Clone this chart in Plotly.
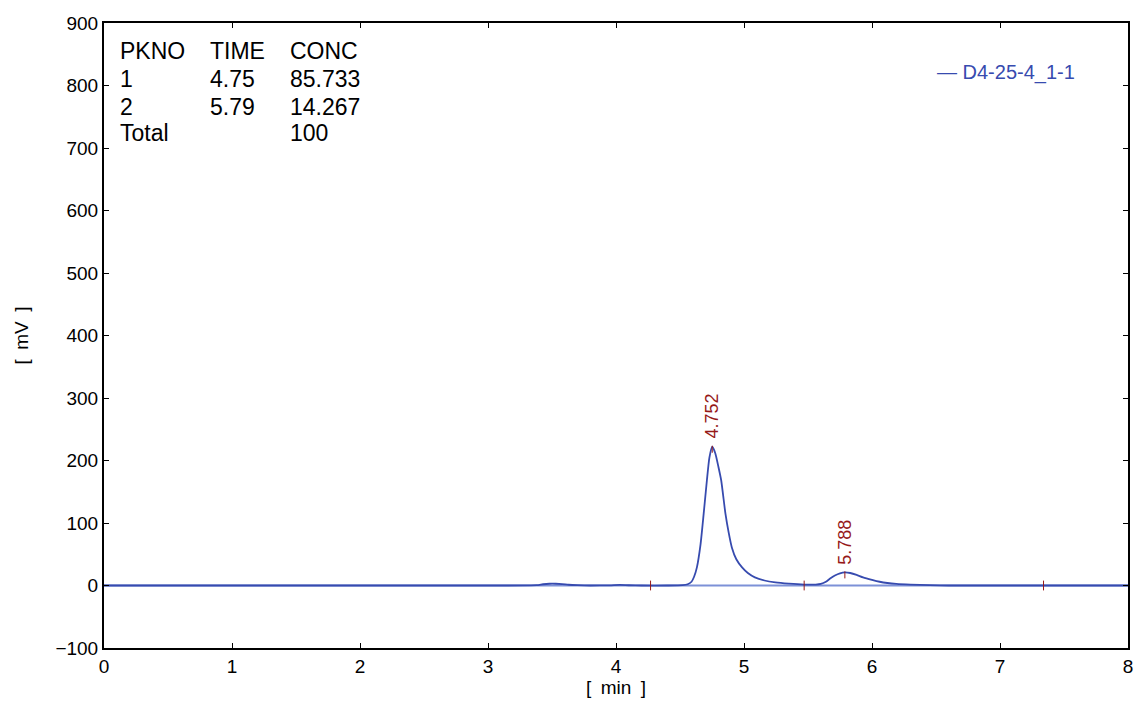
import plotly.graph_objects as go

# Chromatogram samples: retention time [min] and detector signal [mV]
time_min = [0.0, 1.0, 2.0, 3.0, 3.38, 3.43, 3.48, 3.53, 3.58, 3.63, 3.70, 3.80,
            3.95, 4.03, 4.10, 4.20, 4.40, 4.52, 4.56, 4.59, 4.61, 4.632, 4.66,
            4.685, 4.71, 4.73, 4.752, 4.775, 4.80, 4.822, 4.855, 4.88, 4.905,
            4.94, 4.985, 5.03, 5.085, 5.16, 5.245, 5.35, 5.47, 5.56, 5.60,
            5.64, 5.67, 5.71, 5.75, 5.788, 5.83, 5.88, 5.93, 6.00, 6.06, 6.12,
            6.19, 6.30, 6.45, 6.60, 7.0, 8.0]
signal_mv = [0.0, 0.0, 0.0, 0.0, 0.5, 2.0, 2.8, 2.8, 2.3, 1.2, 0.5, 0.0,
             0.3, 1.0, 0.4, 0.0, 0.0, 0.5, 2.0, 6.0, 14.0, 29.0, 65.0,
             115.0, 168.0, 205.0, 222.0, 212.0, 190.0, 168.0, 115.0, 85.0, 61.0,
             42.0, 29.0, 20.0, 13.0, 8.0, 5.0, 3.0, 1.5, 1.5, 2.5,
             6.0, 10.7, 16.0, 19.5, 21.0, 20.0, 17.0, 13.0, 9.0, 6.0, 4.0,
             2.6, 1.4, 0.5, 0.0, 0.0, 0.0]

# Integration table
pk_no = ["1", "2"]
pk_time = ["4.75", "5.79"]
pk_conc = ["85.733", "14.267"]
total_conc = "100"

# Peak apex labels and their heights
apex_rt = [4.752, 5.788]
apex_mv = [222.0, 21.0]
# Integration boundary markers on the baseline
boundary_rt = [4.27, 5.47, 7.34]

series_name = "D4-25-4_1-1"
x_ticks = [0, 1, 2, 3, 4, 5, 6, 7, 8]
y_ticks = [-100, 0, 100, 200, 300, 400, 500, 600, 700, 800, 900]

TRACE = "rgb(55,75,175)"
BASE = "rgb(125,145,215)"
RED = "rgb(150,25,25)"
FONT = "Liberation Sans, Arial, sans-serif"

fig = go.Figure()

# baseline
fig.add_trace(go.Scatter(x=[x_ticks[0], x_ticks[-1]], y=[0, 0], mode="lines",
                         line=dict(color=BASE, width=2), hoverinfo="skip",
                         showlegend=False))
# signal
fig.add_trace(go.Scatter(x=time_min, y=signal_mv, mode="lines",
                         line=dict(color=TRACE, width=1.8, shape="spline", smoothing=0.6),
                         name=series_name, showlegend=False))
# boundary ticks
fig.add_trace(go.Scatter(x=boundary_rt, y=[0] * len(boundary_rt), mode="markers",
                         marker=dict(symbol="line-ns", size=7,
                                     line=dict(color=RED, width=1)),
                         hoverinfo="skip", showlegend=False))
# apex ticks
fig.add_trace(go.Scatter(x=apex_rt, y=[v - 4 for v in apex_mv], mode="markers",
                         marker=dict(symbol="line-ns", size=5,
                                     line=dict(color=RED, width=1)),
                         hoverinfo="skip", showlegend=False))

# apex retention time labels
for rt, mv in zip(apex_rt, apex_mv):
    fig.add_annotation(x=rt, y=mv, text=f"{rt:.3f}", textangle=-90,
                       showarrow=False, yanchor="bottom", xanchor="center",
                       yshift=6, font=dict(family=FONT, size=18, color=RED))

# table of peaks
rows = [("PKNO", "TIME", "CONC")] + list(zip(pk_no, pk_time, pk_conc)) + [("Total", "", total_conc)]
col_x = [0.0137, 0.1016, 0.1797]
row_y = [0.9547, 0.9104, 0.8661, 0.824]
for r, row in enumerate(rows):
    for c, txt in enumerate(row):
        if txt:
            fig.add_annotation(xref="paper", yref="paper", x=col_x[c], y=row_y[r],
                               text=txt, showarrow=False, xanchor="left",
                               yanchor="middle",
                               font=dict(family=FONT, size=23, color="black"))

# series legend
fig.add_annotation(xref="paper", yref="paper", x=0.8115, y=0.9216,
                   text="— " + series_name, showarrow=False, xanchor="left",
                   yanchor="middle", font=dict(family=FONT, size=20, color=TRACE))

axis_common = dict(showline=True, linecolor="black", linewidth=2, mirror="ticks",
                   ticks="inside", ticklen=5, tickwidth=1, tickcolor="black",
                   showgrid=False, zeroline=False, automargin=False,
                   ticklabeloverflow="allow",
                   tickfont=dict(family=FONT, size=19, color="black"))

fig.update_xaxes(range=[0, 8], tickvals=x_ticks, **axis_common,
                 title=dict(text="[\u2002min\u2002]", standoff=4,
                            font=dict(family=FONT, size=19, color="black")))
fig.update_yaxes(range=[-100, 900], tickvals=y_ticks,
                 ticktext=[str(v).replace("-", "\u2212") for v in y_ticks],
                 **axis_common,
                 title=dict(text="[\u2002mV\u2002]", standoff=22,
                            font=dict(family=FONT, size=19, color="black")))

fig.update_layout(width=1137, height=706, plot_bgcolor="white", paper_bgcolor="white",
                  margin=dict(l=104, r=9, t=23, b=58), showlegend=False,
                  font=dict(family=FONT))

fig.write_html("out.html")
